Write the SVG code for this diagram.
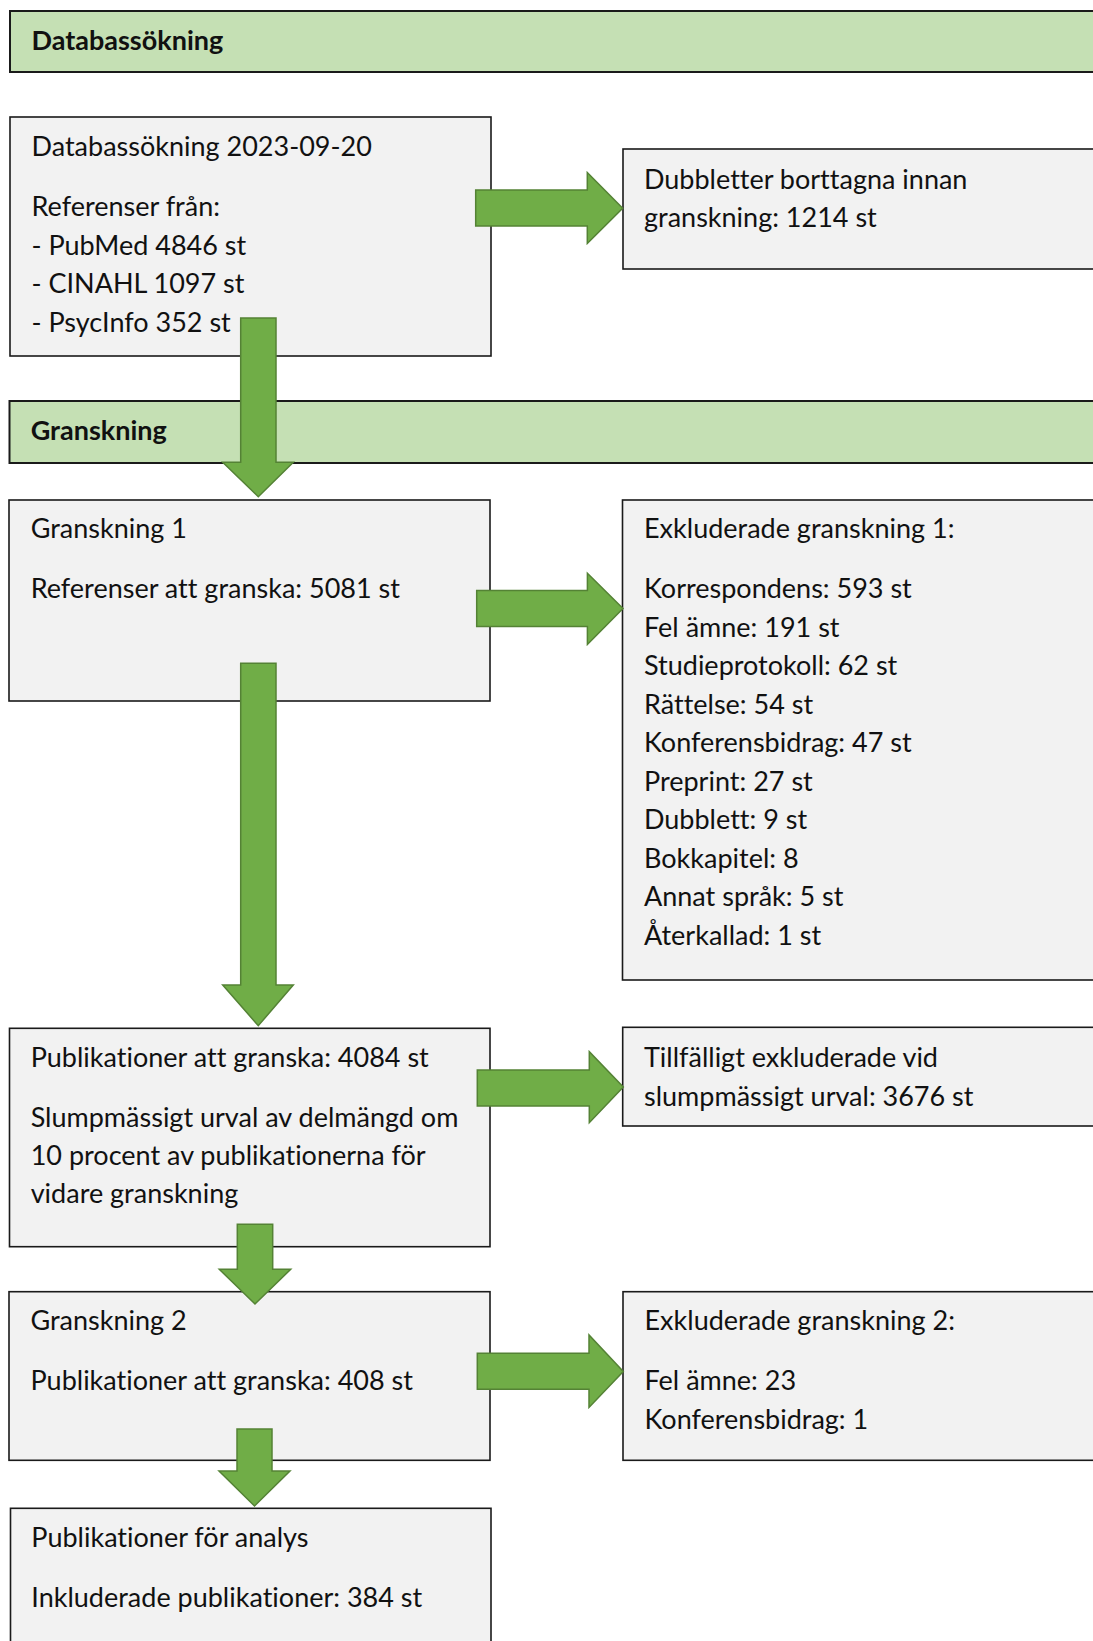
<svg xmlns="http://www.w3.org/2000/svg" width="1093" height="1641" viewBox="0 0 1093 1641">
<style>
.hdr{fill:#C5E0B4;stroke:#1a1a1a;stroke-width:2}
.box{fill:#F2F2F2;stroke:#1a1a1a;stroke-width:1.6}
.t{font-family:Lato,"Liberation Sans",sans-serif;font-size:27px;fill:#111;font-variant-ligatures:none}
.b{font-family:Lato,"Liberation Sans",sans-serif;font-size:27px;font-weight:bold;fill:#111;font-variant-ligatures:none}
.arr{fill:#70AD47;stroke:#548235;stroke-width:1.5;stroke-linejoin:miter}
</style>
<rect width="1093" height="1641" fill="#ffffff"/>
<g id="header-databassokning">
<rect class="hdr" x="10" y="11" width="1095" height="61"/>
<text class="b" x="31.5" y="50">Databassökning</text>
</g>
<g id="node-databassokning">
<rect class="box" x="10" y="117" width="481" height="239"/>
<text class="t" x="31.5" y="155.5">Databassökning 2023-09-20</text>
<text class="t" x="31.5" y="216">Referenser från:</text>
<text class="t" x="31.5" y="254.5">- PubMed 4846 st</text>
<text class="t" x="31.5" y="293">- CINAHL 1097 st</text>
<text class="t" x="31.5" y="331.5">- PsycInfo 352 st</text>
</g>
<g id="node-dubbletter">
<rect class="box" x="623" y="149" width="480" height="120"/>
<text class="t" x="644" y="189">Dubbletter borttagna innan</text>
<text class="t" x="644" y="227">granskning: 1214 st</text>
</g>
<g id="header-granskning">
<rect class="hdr" x="9.5" y="401" width="1095" height="62"/>
<text class="b" x="30.7" y="439.5">Granskning</text>
</g>
<g id="node-granskning1">
<rect class="box" x="9" y="500" width="481" height="201"/>
<text class="t" x="30.7" y="538.3">Granskning 1</text>
<text class="t" x="30.7" y="598.3">Referenser att granska: 5081 st</text>
</g>
<g id="node-exkluderade1">
<rect class="box" x="622.5" y="500" width="480" height="480"/>
<text class="t" x="644" y="538.3">Exkluderade granskning 1:</text>
<text class="t" x="644" y="598.3">Korrespondens: 593 st</text>
<text class="t" x="644" y="636.8">Fel ämne: 191 st</text>
<text class="t" x="644" y="675.3">Studieprotokoll: 62 st</text>
<text class="t" x="644" y="713.8">Rättelse: 54 st</text>
<text class="t" x="644" y="752.3">Konferensbidrag: 47 st</text>
<text class="t" x="644" y="790.8">Preprint: 27 st</text>
<text class="t" x="644" y="829.3">Dubblett: 9 st</text>
<text class="t" x="644" y="867.8">Bokkapitel: 8</text>
<text class="t" x="644" y="906.3">Annat språk: 5 st</text>
<text class="t" x="644" y="944.8">Återkallad: 1 st</text>
</g>
<g id="node-publikationer">
<rect class="box" x="9.5" y="1028.3" width="480.5" height="218.4"/>
<text class="t" x="30.7" y="1067.3">Publikationer att granska: 4084 st</text>
<text class="t" x="30.7" y="1126.7">Slumpmässigt urval av delmängd om</text>
<text class="t" x="30.7" y="1165">10 procent av publikationerna för</text>
<text class="t" x="30.7" y="1203.3">vidare granskning</text>
</g>
<g id="node-tillfalligt">
<rect class="box" x="622.7" y="1027.3" width="480" height="98.7"/>
<text class="t" x="644" y="1066.7">Tillfälligt exkluderade vid</text>
<text class="t" x="644" y="1105.5">slumpmässigt urval: 3676 st</text>
</g>
<g id="node-granskning2">
<rect class="box" x="9" y="1291.7" width="481" height="168.6"/>
<text class="t" x="30.5" y="1330">Granskning 2</text>
<text class="t" x="30.5" y="1390">Publikationer att granska: 408 st</text>
</g>
<g id="node-exkluderade2">
<rect class="box" x="623" y="1291.7" width="480" height="168.6"/>
<text class="t" x="644.5" y="1330">Exkluderade granskning 2:</text>
<text class="t" x="644.5" y="1390">Fel ämne: 23</text>
<text class="t" x="644.5" y="1428.5">Konferensbidrag: 1</text>
</g>
<g id="node-analys">
<rect class="box" x="10.5" y="1508.3" width="480.5" height="140"/>
<text class="t" x="31.3" y="1547">Publikationer för analys</text>
<text class="t" x="31.3" y="1607">Inkluderade publikationer: 384 st</text>
</g>
<g id="connectors">
<polygon class="arr" points="475.7,190 587.3,190 587.3,172.5 622.7,208.3 587.3,243.5 587.3,226 475.7,226"/>
<polygon class="arr" points="240.7,318 276,318 276,462.3 293.3,462.3 258.3,496.7 222.7,462.3 240.7,462.3"/>
<polygon class="arr" points="476.7,590.5 587.4,590.5 587.4,573.3 623,608.5 587.4,644.5 587.4,626.5 476.7,626.5"/>
<polygon class="arr" points="240.7,663.3 276,663.3 276,985 293.3,985 258.3,1025.7 222.7,985 240.7,985"/>
<polygon class="arr" points="477.3,1070 589.3,1070 589.3,1051.7 623.3,1087 589.3,1122.7 589.3,1106 477.3,1106"/>
<polygon class="arr" points="237.3,1224.3 272.7,1224.3 272.7,1269.3 290.7,1269.3 255,1304 219.3,1269.3 237.3,1269.3"/>
<polygon class="arr" points="477.3,1353.3 589,1353.3 589,1335 623.3,1371.5 589,1407.5 589,1389.3 477.3,1389.3"/>
<polygon class="arr" points="237,1429 272,1429 272,1471 290,1471 254.5,1506 219,1471 237,1471"/>
</g>
</svg>
